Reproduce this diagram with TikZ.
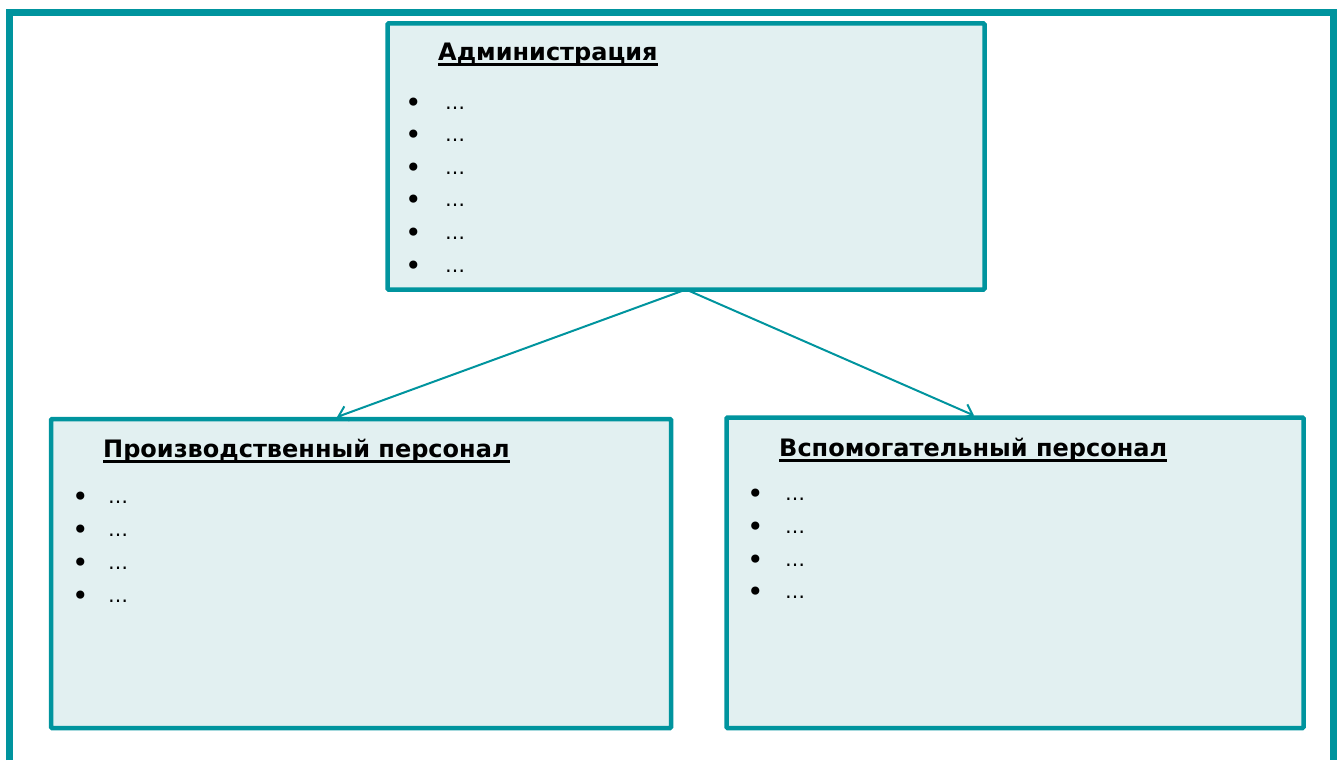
\documentclass[tikz,border=0pt]{standalone}
\usepackage{fontspec}
\setmainfont{DejaVu Sans}
\usetikzlibrary{arrows.meta}
\definecolor{frameclr}{RGB}{0,148,158}
\definecolor{boxfill}{RGB}{226,240,241}
\tikzset{>={Straight Barb[length=9pt,width=15pt]}}
\tikzset{
  boxnode/.style={draw=frameclr, fill=boxfill, line width=4.5pt, inner sep=0pt, outer sep=0pt, rounded corners=1pt},
  headnode/.style={anchor=base west, inner sep=0pt, font=\fontsize{24}{28}\selectfont\bfseries},
  dotitem/.style={anchor=base west, inner sep=0pt, font=\fontsize{20}{24}\selectfont},
  link/.style={->, draw=frameclr, line width=2pt}
}
\newcommand\ulhead[1]{\setbox0\hbox{#1}\rlap{\rule[-5.5pt]{\wd0}{3pt}}\box0}
\newcommand\dotline[1]{\makebox[#1][l]{\raisebox{-3pt}{\fontsize{28}{28}\selectfont •}}…}

\begin{document}
\begin{tikzpicture}[x=1pt,y=-1pt]
  \useasboundingbox (0,0) rectangle (1340,760);

  % outer frame, open at the bottom
  \draw[frameclr, line width=7pt] (9.5,760) -- (9.5,13) -- (1333.5,13) -- (1333.5,760);

  % boxes
  \node[boxnode, minimum width=597pt, minimum height=266pt] (admin) at (686,156.5) {};
  \node[boxnode, minimum width=620pt, minimum height=309pt] (prod) at (361,573.5) {};
  \node[boxnode, minimum width=577pt, minimum height=310.5pt] (aux) at (1015,572.75) {};

  % headings
  \node[headnode] (adminhead) at (438,60) {\ulhead{Администрация}};
  \node[headnode] (prodhead) at (103,457) {\ulhead{Производственный персонал}};
  \node[headnode] (auxhead) at (779,456) {\ulhead{Вспомогательный персонал}};

  % items
  \foreach \i in {1,...,6}
    \node[dotitem] (admin\i) at (405,76.4+32.6*\i) {\dotline{40pt}};
  \foreach \i in {1,...,4}
    \node[dotitem] (prod\i) at (72,470+33*\i) {\dotline{36pt}};
  \foreach \i in {1,...,4}
    \node[dotitem] (aux\i) at (747,468+32.7*\i) {\dotline{38pt}};

  % links
  \draw[link] (admin.south) -- ([xshift=-24pt,yshift=2pt]prod.north);
  \draw[link] (admin.south) -- ([xshift=-41pt,yshift=2pt]aux.north);

\end{tikzpicture}
\end{document}
